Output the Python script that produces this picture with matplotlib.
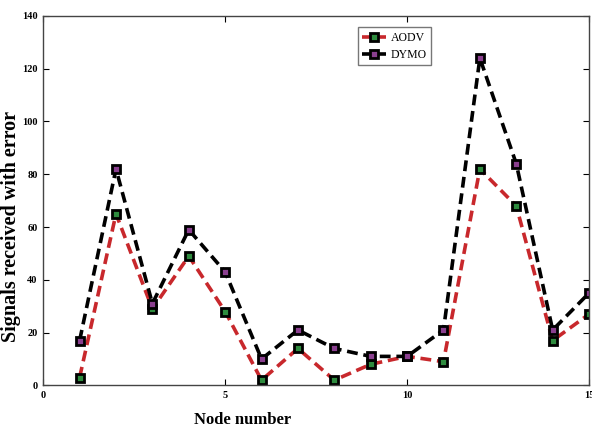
import numpy as np
import matplotlib.pyplot as plt

nodes = np.arange(1, 16)
aodv = [3, 65, 29, 49, 28, 2, 14, 2, 8, 11, 9, 82, 68, 17, 27]
dymo = [17, 82, 31, 59, 43, 10, 21, 14, 11, 11, 21, 124, 84, 21, 35]

plt.rcParams['font.family'] = ['Liberation Serif', 'DejaVu Serif']

fig = plt.figure(figsize=(5.92, 4.41), dpi=100)
ax = fig.add_axes([0.073, 0.126, 0.922, 0.838])

# dashed lines with squared markers, black edges
ax.plot(nodes, aodv, '--s', color='#c8282c', lw=2.6, dashes=(3, 1.6),
        ms=5.8, mfc='#2e8b3e', mec='black', mew=2.0, label='AODV')
ax.plot(nodes, dymo, '--s', color='black', lw=2.6, dashes=(3, 1.6),
        ms=5.8, mfc='#8a3f8f', mec='black', mew=2.0, label='DYMO')

ax.set_xlim(0, 15)
ax.set_ylim(0, 140)
ax.set_xticks([0, 5, 10, 15])
ax.set_yticks(np.arange(0, 141, 20))
ax.tick_params(direction='in', top=True, right=True, labelsize=7.5, length=4, pad=4)
for lbl in ax.get_xticklabels() + ax.get_yticklabels():
    lbl.set_fontweight('bold')
for s in ax.spines.values():
    s.set_linewidth(1.0)
    s.set_color('#444444')

ax.set_xlabel('Node number', fontsize=12, fontweight='bold')
ax.xaxis.set_label_coords(243 / 592, 1 - 412 / 441, transform=fig.transFigure)
ax.set_ylabel('Signals received with error', fontsize=14.5, fontweight='bold')
ax.yaxis.set_label_coords(21 / 592, 1 - 226 / 441, transform=fig.transFigure)

leg = ax.legend(loc='upper left', bbox_to_anchor=(0.565, 0.985), fontsize=8.5,
                frameon=True, fancybox=False, edgecolor='#555555',
                handlelength=2.0, borderpad=0.4, labelspacing=0.4, handletextpad=0.4)
leg.get_frame().set_linewidth(1.0)

fig.savefig('out.png', dpi=100)
